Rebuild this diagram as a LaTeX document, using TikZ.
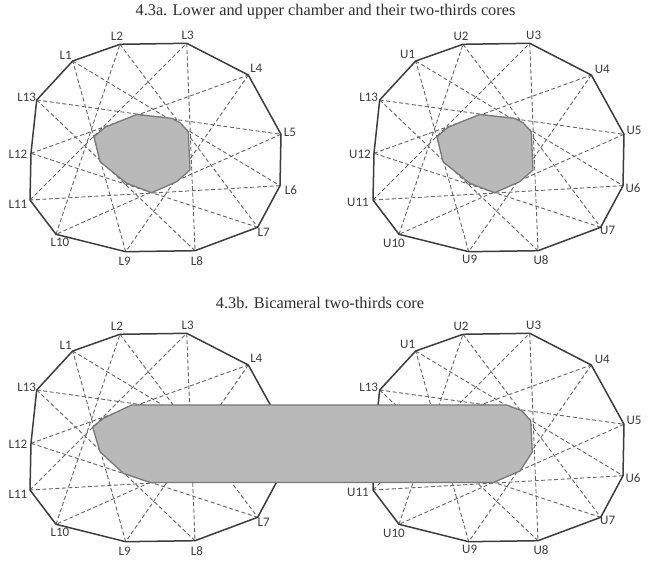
\documentclass[tikz,border=0pt]{standalone}
\usepackage{fontspec}
\setmainfont{Liberation Serif}
\newfontfamily\labfont{Carlito}
\usetikzlibrary{calc}
\definecolor{edgec}{RGB}{60,60,60}
\definecolor{chordc}{RGB}{100,100,100}
\definecolor{corefill}{RGB}{185,185,186}
\definecolor{coreedge}{RGB}{120,120,120}
\definecolor{labc}{RGB}{60,60,60}
\definecolor{titlec}{RGB}{45,45,45}
\tikzset{
  outline/.style={draw=edgec, line width=1.5pt, line join=round},
  chord/.style={draw=chordc, line width=0.9pt, dash pattern=on 4pt off 2.5pt},
  core/.style={fill=corefill, draw=coreedge, line width=1.3pt, line join=round},
  lab/.style={font=\labfont\fontsize{13}{14}\selectfont, text=labc, inner sep=0pt},
  title/.style={font=\fontsize{16.3}{18}\selectfont, text=titlec, inner sep=0pt, anchor=base},
}
\newcommand\chamberpts[3]{%
  \foreach \i/\x/\y in {1/72.7/61,2/120/44.3,3/186.7/43.3,4/248.3/75,5/281/134.3,6/280/185.7,7/257.7/227.3,8/195/250.7,9/125.7/251.7,10/56/234.3,11/30/200,12/31/153.3,13/36.7/100}
  {\coordinate (#1\i) at (\x+#2,\y+#3);}
}
\newcommand\chamberlines[1]{%
  \foreach \i in {1,...,13}{%
    \pgfmathtruncatemacro\j{mod(\i+4,13)+1}
    \draw[chord] (#1\i) -- (#1\j);
  }
  \draw[outline] (#11) -- (#12) -- (#13) -- (#14) -- (#15) -- (#16) -- (#17) -- (#18) -- (#19) -- (#110) -- (#111) -- (#112) -- (#113) -- cycle;
}
\begin{document}
\begin{tikzpicture}[x=1pt,y=-1pt]
\useasboundingbox (0,0) rectangle (649,561);
% points
\chamberpts{tl}{0}{0}
\chamberpts{tr}{343}{0}
\chamberpts{bl}{0}{290}
\chamberpts{br}{343}{290}
% titles
\node[title] (titleA) at (325.5,16) {4.3a. Lower and upper chamber and their two-thirds cores};
\node[title] (titleB) at (320,309) {4.3b. Bicameral two-thirds core};
% chambers
\chamberlines{tl}
\chamberlines{tr}
\chamberlines{bl}
\chamberlines{br}
% cores
\draw[core] (94,136.7) -- (105,127.3) -- (136.7,114.5) -- (171.7,118.3) -- (180,122.7) -- (188.3,131.7) -- (190,170) -- (176.7,181.7) -- (151.7,192.7) -- (126.7,183.3) -- (100,161.7) -- cycle;
\begin{scope}[xshift=343pt]
\draw[core] (94,136.7) -- (105,127.3) -- (136.7,114.5) -- (171.7,118.3) -- (180,122.7) -- (188.3,131.7) -- (190,170) -- (176.7,181.7) -- (151.7,192.7) -- (126.7,183.3) -- (100,161.7) -- cycle;
\end{scope}
\draw[core] (92.7,427.3) -- (103.3,418.3) -- (131.7,405) -- (506.7,405) -- (521.7,410.7) -- (530.7,420.7) -- (532.3,452) -- (520,471) -- (493.3,482.5) -- (150,482.5) -- (123.3,473.3) -- (100,451.7) -- cycle;
% labels
\foreach \i/\dx/\dy in {1/-7/-6,2/-3/-8,3/1/-8,4/8/-7,5/9/-2,6/11/4,7/6/5,8/2/10,9/-1/10,10/4/8,11/-12/4,12/-13/1,13/-10/-3}
  {\path (tl\i) ++(\dx,\dy) node[lab] (tlL\i) {L\i};}
\foreach \i/\t/\dx/\dy in {1/U1/-8/-7,2/U2/-2/-8,3/U3/4/-8,4/U4/11/-6,5/U5/10/-4,6/U6/10/2,7/U7/7/3,8/U8/3/9,9/U9/1/8,10/U10/-5/9,11/U11/-15/2,12/U12/-14/1,13/L13/-11/-3}
  {\path (tr\i) ++(\dx,\dy) node[lab] (trL\i) {\t};}
\foreach \i/\dx/\dy in {1/-7/-6,2/-3/-8,3/1/-8,4/8/-7,7/6/5,8/2/10,9/-1/10,10/4/8,11/-12/4,12/-13/1,13/-10/-3}
  {\path (bl\i) ++(\dx,\dy) node[lab] (blL\i) {L\i};}
\foreach \i/\t/\dx/\dy in {1/U1/-8/-7,2/U2/-2/-8,3/U3/4/-8,4/U4/11/-6,5/U5/10/-4,6/U6/10/2,7/U7/7/3,8/U8/3/9,9/U9/1/8,10/U10/-5/9,11/U11/-15/2,13/L13/-11/-3}
  {\path (br\i) ++(\dx,\dy) node[lab] (brL\i) {\t};}
\end{tikzpicture}
\end{document}
